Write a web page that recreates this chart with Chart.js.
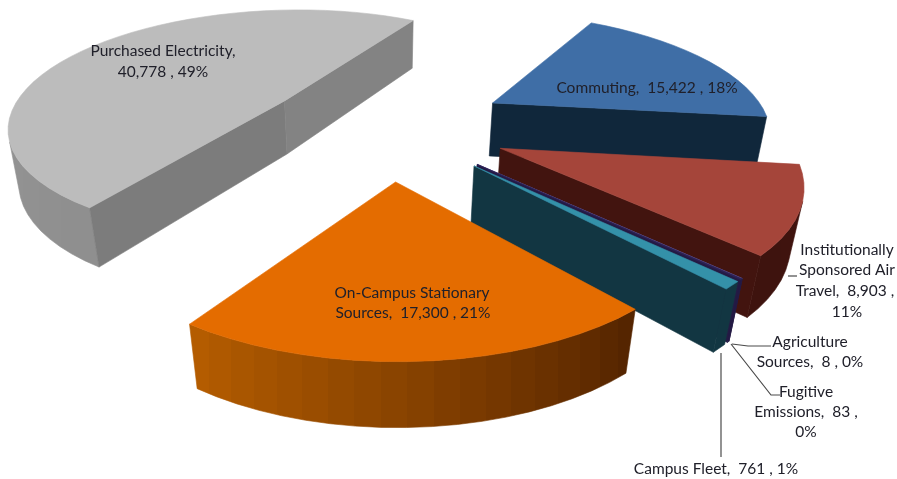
<!DOCTYPE html>
<html>
<head>
<meta charset="utf-8">
<style>
html,body{margin:0;padding:0;background:#fff;}
canvas{display:block;}
</style>
<script src="https://cdn.jsdelivr.net/npm/chart.js@4"></script>
</head>
<body>
<canvas id="emissions" width="897" height="479"></canvas>
<script>
// Greenhouse gas sources, clockwise from the start of the pie
const categories = ['Purchased Electricity','Commuting','Institutionally Sponsored Air Travel','Agriculture Sources','Fugitive Emissions','Campus Fleet','On-Campus Stationary Sources'];
const emissions = [40778,15422,8903,8,83,761,17300];

// Slice styling
const explode = [80,100,93,94,94,94,84];
const sliceDriftX = [-3,-5,1,1,1,1,10];
const sliceDriftY = [-2,1,-4,-5,-5,-5,1];
const topColors = ['#bcbcbc','#3f6ea6','#a5453a','#6a5a9a','#2e2358','#3491a9','#e46c00'];
const sideColors = ['#7c7c7c','#10273b','#42140f','#241a44','#241a44','#123642','#5a2800'];
const endSideColors = ['#838383','#10273b','#42140f','#241a44','#241a44','#123642','#5a2800'];
const rimStart = ['#8f8f8f','#10273b','#42140f','#241a44','#241a44','#123642','#552500'];
const rimEnd = ['#a4a4a4','#10273b','#3e130e','#241a44','#241a44','#123642','#b45c00'];

// Text blocks and their leader lines
const labelLines = [
  {x:163,y:51,t:'Purchased Electricity,'},{x:163,y:72,t:'40,778 , 49%'},
  {x:647,y:88,t:'Commuting,  15,422 , 18%'},
  {x:412,y:293,t:'On-Campus Stationary'},{x:413,y:313,t:'Sources,  17,300 , 21%'},
  {x:847,y:250,t:'Institutionally'},{x:847,y:270,t:'Sponsored Air'},{x:845,y:291,t:'Travel,  8,903 ,'},{x:847,y:312,t:'11%'},
  {x:810,y:342,t:'Agriculture'},{x:810,y:362,t:'Sources,  8 , 0%'},
  {x:806,y:392,t:'Fugitive'},{x:806,y:412,t:'Emissions,  83 ,'},{x:806,y:432,t:'0%'},
  {x:716,y:469,t:'Campus Fleet,  761 , 1%'}
];
const leaders = [
  [[788,276],[797,276]],
  [[732,344],[748,346],[771,346]],
  [[731,344],[771,395],[780,395]],
  [[721,353],[721,457]]
];

// Camera used to lay the pie down in perspective
const view = {cx:378, cy:127, scale:268, stretch:1.04, persp:0.2, sinT:0.44, cosT:0.9, depth:0.233, sink:0.03};

function project(wx, wy, lower, i){
  const f = view.scale / (1 - view.persp * wy + (lower ? view.sink : 0));
  return {
    x: view.cx + sliceDriftX[i] + wx * f * view.stretch,
    y: view.cy + sliceDriftY[i] + (wy * view.sinT + (lower ? view.depth * view.cosT : 0)) * f
  };
}

function poly(ctx, pts, color){
  ctx.beginPath();
  pts.forEach((p,i)=> i ? ctx.lineTo(p.x,p.y) : ctx.moveTo(p.x,p.y));
  ctx.closePath();
  ctx.fillStyle = color;
  ctx.strokeStyle = color;
  ctx.lineWidth = 0.6;
  ctx.fill();
  ctx.stroke();
}

function mix(a, b, t){
  const h = c => [1,3,5].map(i=>parseInt(c.substr(i,2),16));
  const A = h(a), B = h(b);
  return 'rgb(' + A.map((v,i)=>Math.round(v+(B[i]-v)*t)).join(',') + ')';
}

function area(p){
  let s = 0;
  p.forEach((q,i)=>{ const r = p[(i+1)%p.length]; s += q.x*r.y - r.x*q.y; });
  return s/2;
}

// Curved outer wall: one shape with a stepped horizontal gradient
function drawRim(ctx, rim, i){
  const tops = rim.map(p=>project(p[0],p[1],false,i));
  const bottoms = rim.map(p=>project(p[0],p[1],true,i));
  const seen = [];
  for(let k=0;k<rim.length-1;k++){
    if(area([tops[k],tops[k+1],bottoms[k+1],bottoms[k]])<0) seen.push(k);
  }
  if(!seen.length) return;
  const first = seen[0], last = seen[seen.length-1]+1;
  const x0 = tops[first].x, x1 = tops[last].x;
  const grad = ctx.createLinearGradient(x0,0,x1,0);
  let prev = 0;
  seen.forEach(k=>{
    const c = mix(rimStart[i],rimEnd[i],k/Math.max(1,rim.length-2));
    const span = (x1-x0)||1;
    const a = Math.min(1,Math.max(prev,(tops[k].x-x0)/span));
    const b = Math.min(1,Math.max(a,(tops[k+1].x-x0)/span));
    grad.addColorStop(a,c);
    grad.addColorStop(b,c);
    prev = b;
  });
  const pts = [];
  for(let k=first;k<=last;k++) pts.push(tops[k]);
  for(let k=last;k>=first;k--) pts.push(bottoms[k]);
  poly(ctx,pts,grad);
}

const solidPie = {
  id:'solidPie',
  beforeDatasetsDraw(chart){
    const ctx = chart.ctx;
    const arcs = chart.getDatasetMeta(0).data.map((el,i)=>({el,i}));
    const midY = a => Math.sin((a.el.startAngle+a.el.endAngle)/2);
    arcs.sort((a,b)=>midY(a)-midY(b));
    arcs.forEach(({el,i})=>{
      const R = el.outerRadius;
      const mid = (el.startAngle+el.endAngle)/2;
      const off = el.options.offset/R;
      const ox = Math.cos(mid)*off, oy = Math.sin(mid)*off;
      const sweep = el.endAngle-el.startAngle;
      const steps = Math.max(1, Math.ceil(sweep/(Math.PI/45)));
      const rim = [];
      for(let k=0;k<=steps;k++){
        const a = el.startAngle+sweep*k/steps;
        rim.push([ox+Math.cos(a), oy+Math.sin(a)]);
      }
      const apex = [ox,oy];
      drawRim(ctx,rim,i);
      // Flat cut faces running from the apex to each end of the rim
      [[apex,rim[0],sideColors[i]],[rim[steps],apex,endSideColors[i]]].forEach(([p,q,color])=>{
        const quad = [project(p[0],p[1],false,i),project(q[0],q[1],false,i),project(q[0],q[1],true,i),project(p[0],p[1],true,i)];
        if(area(quad) < 0) poly(ctx,quad,color);
      });
      poly(ctx, [apex].concat(rim).map(p=>project(p[0],p[1],false,i)), topColors[i]);
    });
    return false;
  },
  afterDraw(chart){
    const ctx = chart.ctx;
    ctx.save();
    ctx.strokeStyle = '#4a4a4a';
    ctx.lineWidth = 1.2;
    leaders.forEach(l=>{
      ctx.beginPath();
      l.forEach((p,i)=> i ? ctx.lineTo(p[0],p[1]) : ctx.moveTo(p[0],p[1]));
      ctx.stroke();
    });
    ctx.fillStyle = '#20202a';
    ctx.font = '15.5px Lato';
    ctx.textAlign = 'center';
    ctx.textBaseline = 'middle';
    labelLines.forEach(l=>ctx.fillText(l.t,l.x,l.y));
    ctx.restore();
  }
};

new Chart(document.getElementById('emissions'),{
  type:'pie',
  data:{labels:categories,datasets:[{data:emissions,backgroundColor:topColors,offset:explode,radius:200,borderWidth:0}]},
  options:{
    responsive:false,
    animation:false,
    rotation:214,
    plugins:{legend:{display:false},tooltip:{enabled:false}}
  },
  plugins:[solidPie]
});
</script>
</body>
</html>
